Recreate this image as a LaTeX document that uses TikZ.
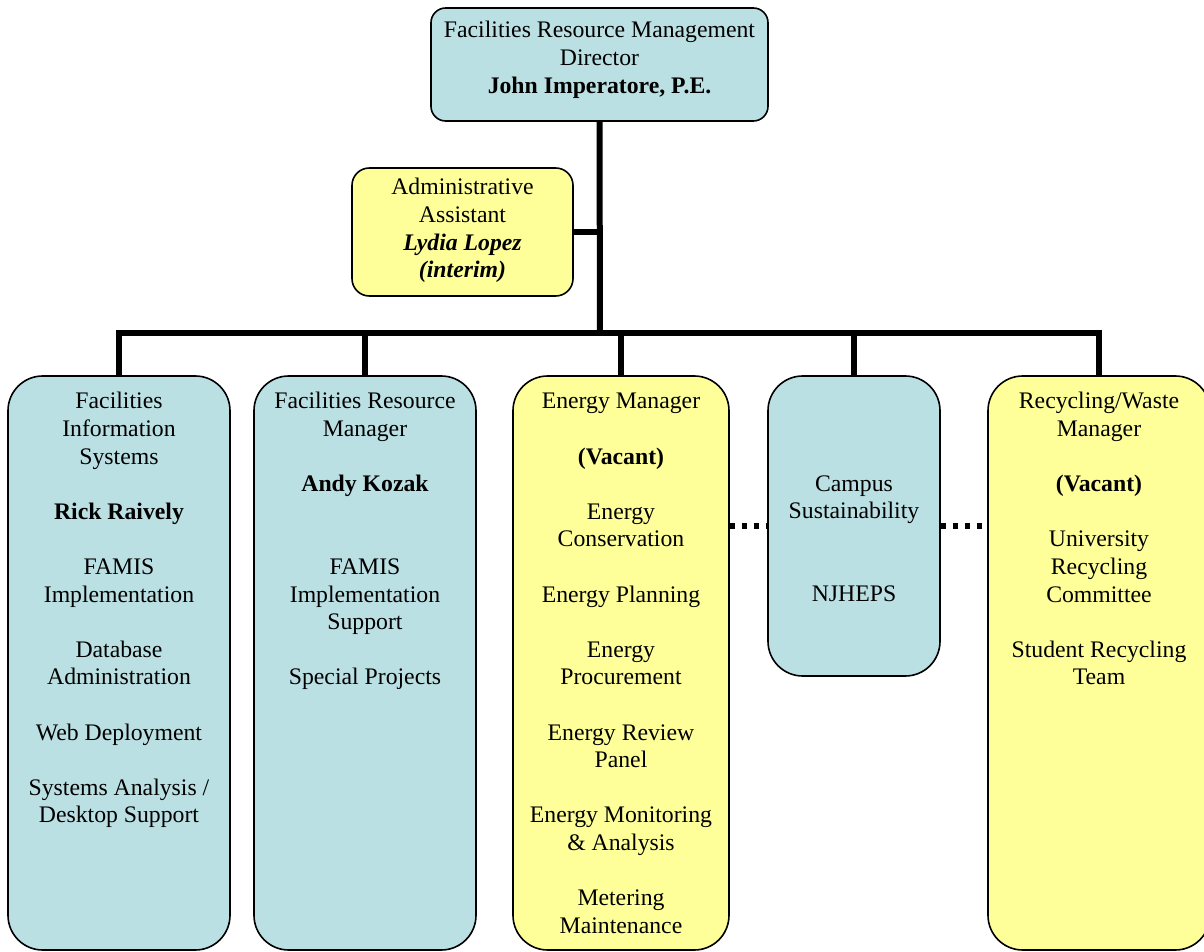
\documentclass[tikz,border=0pt]{standalone}
\usepackage{fontspec}
\setmainfont{Liberation Serif}
\newcommand\orgtext[1]{\begin{tabular}[t]{@{}c@{}}#1\end{tabular}}
\definecolor{orgblue}{HTML}{BBE0E3}
\definecolor{orgyellow}{HTML}{FFFF99}
\tikzset{
  unitbox/.style={draw=black, line width=1.2pt, inner sep=0pt},
  topbox/.style={unitbox, rounded corners=11pt},
  colbox/.style={unitbox, rounded corners=26pt},
  label/.style={anchor=base, inner sep=0pt, font=\fontsize{17.8}{20.7}\selectfont},
  conn/.style={line width=4.5pt, line join=miter},
  dotconn/.style={line width=4pt, dash pattern=on 3.75pt off 5.25pt},
}
\begin{document}
\begin{tikzpicture}[x=0.75pt, y=-0.75pt]
\useasboundingbox (0,0) rectangle (1204,952);
\clip (0,0) rectangle (1204,952);

% boxes
\node[topbox, fill=orgblue, minimum width=252.75pt, minimum height=84.75pt] (dir) at (599.5,64.5) {};
\node[topbox, fill=orgyellow, rounded corners=13pt, minimum width=165.75pt, minimum height=96pt] (asst) at (462.5,232) {};
\node[colbox, fill=orgblue, minimum width=166.5pt, minimum height=430.5pt] (b1) at (119,663) {};
\node[colbox, fill=orgblue, minimum width=166.5pt, minimum height=430.5pt] (b2) at (365,663) {};
\node[colbox, fill=orgyellow, minimum width=162pt, minimum height=430.5pt] (b3) at (621,663) {};
\node[colbox, fill=orgblue, minimum width=129pt, minimum height=225pt] (b4) at (854,526) {};
\node[colbox, fill=orgyellow, minimum width=166.5pt, minimum height=430.5pt] (b5) at (1099,663) {};

% texts
\node[label] (tdir) at (599.5,38) {\orgtext{Facilities Resource Management\\Director\\\textbf{John Imperatore, P.E.}}};
\node[label] (tasst) at (462.5,195) {\orgtext{Administrative\\Assistant\\\textbf{\textit{Lydia Lopez}}\\\textbf{\textit{(interim)}}}};
\node[label] (t1) at (119,409) {\orgtext{Facilities\\Information\\Systems\\ \\\textbf{Rick Raively}\\ \\FAMIS\\Implementation\\ \\Database\\Administration\\ \\Web Deployment\\ \\Systems Analysis /\\Desktop Support}};
\node[label] (t2) at (365,409) {\orgtext{Facilities Resource\\Manager\\ \\\textbf{Andy Kozak}\\ \\ \\FAMIS\\Implementation\\Support\\ \\Special Projects}};
\node[label] (t3) at (621,409) {\orgtext{Energy Manager\\ \\\textbf{(Vacant)}\\ \\Energy\\Conservation\\ \\Energy Planning\\ \\Energy\\Procurement\\ \\Energy Review\\Panel\\ \\Energy Monitoring\\\& Analysis\\ \\Metering\\Maintenance}};
\node[label] (t4) at (854,491) {\orgtext{Campus\\Sustainability\\ \\ \\NJHEPS}};
\node[label] (t5) at (1099,409) {\orgtext{Recycling/Waste\\Manager\\ \\\textbf{(Vacant)}\\ \\University\\Recycling\\Committee\\ \\Student Recycling\\Team}};

% connectors
\coordinate (bus) at (600,333);
\draw[conn] (dir.south) -- (bus);
\draw[conn] (asst.east) -- (asst.east -| dir.south);
\draw[conn] (b1.north) |- (bus) -| (b5.north);
\draw[conn] (b2.north) -- (b2.north |- bus);
\draw[conn] (b3.north) -- (b3.north |- bus);
\draw[conn] (b4.north) -- (b4.north |- bus);
\draw[dotconn] (b4.west -| b3.east) -- (b4.west);
\draw[dotconn] (b4.east) -- (b4.east -| b5.west);
\end{tikzpicture}
\end{document}
